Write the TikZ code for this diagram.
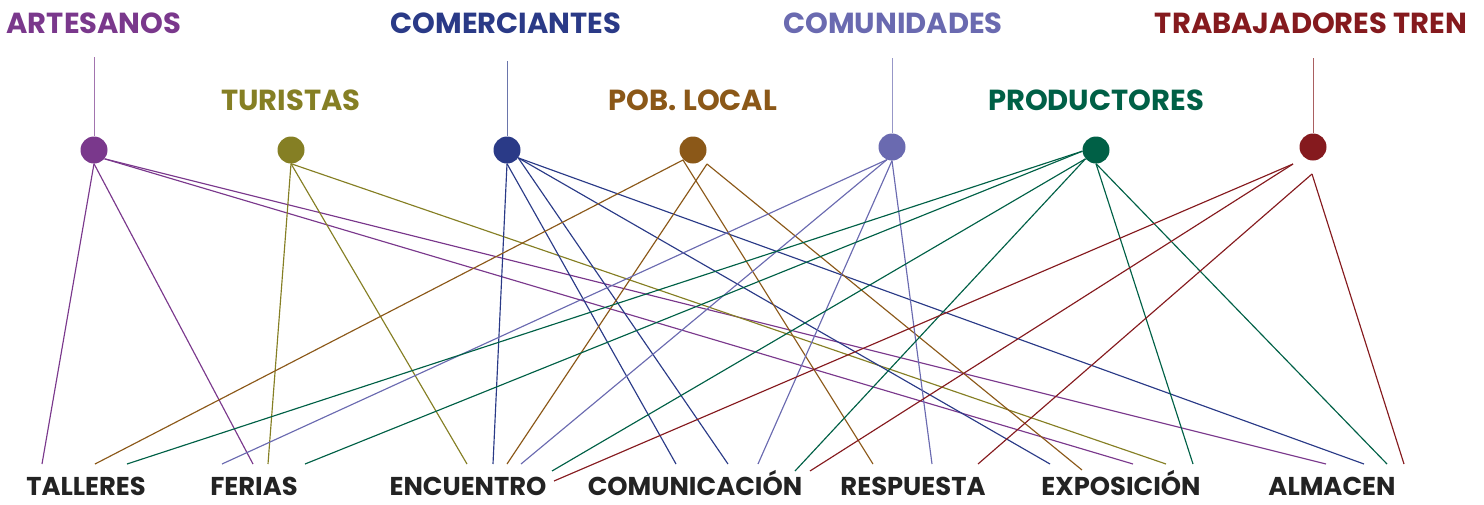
\documentclass[tikz,border=0pt]{standalone}
\usepackage{fontspec}
\setmainfont{Poppins}
\usepackage{tikz}
\usetikzlibrary{positioning}

\definecolor{artcol}{RGB}{122,56,140}
\definecolor{turcol}{RGB}{133,127,36}
\definecolor{comcol}{RGB}{42,58,135}
\definecolor{pobcol}{RGB}{139,88,24}
\definecolor{cmdcol}{RGB}{106,106,176}
\definecolor{procol}{RGB}{0,96,70}
\definecolor{trecol}{RGB}{133,26,30}
\definecolor{txtcol}{RGB}{35,35,35}

\tikzset{
  dot/.style={circle,fill=#1,minimum size=27pt,inner sep=0pt},
  grp/.style={text=#1,font=\fontsize{29}{29}\selectfont\bfseries,anchor=base,inner sep=0pt},
  use/.style={text=txtcol,font=\fontsize{25.8}{25.8}\selectfont\bfseries,anchor=base,inner sep=0pt},
  link/.style={draw=#1,line width=1.15pt},
  stem/.style={draw=#1!70,line width=1pt}
}

\begin{document}
\begin{tikzpicture}[x=1pt,y=-1pt]
\useasboundingbox (0,0) rectangle (1484,504);

% groups (top)
\node[grp=artcol] (artL) at (94,33) {ARTESANOS};
\node[grp=comcol] (comL) at (506,33) {COMERCIANTES};
\node[grp=cmdcol] (cmdL) at (893,33) {COMUNIDADES};
\node[grp=trecol] (treL) at (1311,33) {TRABAJADORES TREN};
\node[grp=turcol] (turL) at (291,110) {TURISTAS};
\node[grp=pobcol] (pobL) at (693,110) {POB. LOCAL};
\node[grp=procol] (proL) at (1096,110) {PRODUCTORES};

% dots
\node[dot=artcol] (art) at (94,150) {};
\node[dot=turcol] (tur) at (291,150) {};
\node[dot=comcol] (com) at (507,150) {};
\node[dot=pobcol] (pob) at (693,150) {};
\node[dot=cmdcol] (cmd) at (892,147) {};
\node[dot=procol] (pro) at (1096,150) {};
\node[dot=trecol] (tre) at (1313,147) {};

% stems
\coordinate (artT) at (94,57);
\coordinate (comT) at (507,61);
\coordinate (cmdT) at (892,58);
\coordinate (treT) at (1313,58);
\draw[stem=artcol] (artT) -- (art);
\draw[stem=comcol] (comT) -- (com);
\draw[stem=cmdcol] (cmdT) -- (cmd);
\draw[stem=trecol] (treT) -- (tre);

% uses (bottom)
\node[use] (tal) at (86,495) {TALLERES};
\node[use] (fer) at (254,495) {FERIAS};
\node[use] (enc) at (468,495) {ENCUENTRO};
\node[use] (cmn) at (695,495) {COMUNICACIÓN};
\node[use] (res) at (913,495) {RESPUESTA};
\node[use] (exp) at (1121,495) {EXPOSICIÓN};
\node[use] (alm) at (1332,495) {ALMACEN};

% line ends
\coordinate (tal-art) at (42,464);
\coordinate (tal-pob) at (95,464);
\coordinate (tal-pro) at (127,464);
\coordinate (fer-cmd) at (222,464);
\coordinate (fer-art) at (253,464);
\coordinate (fer-tur) at (268,464);
\coordinate (fer-pro) at (305,464);
\coordinate (enc-tur) at (467,464);
\coordinate (enc-com) at (493,464);
\coordinate (enc-pob) at (507,464);
\coordinate (enc-cmd) at (521,464);
\coordinate (enc-pro) at (552,471);
\coordinate (enc-tre) at (554,481);
\coordinate (cmn-com) at (676,464);
\coordinate (cmn-coz) at (728,464);
\coordinate (cmn-cmd) at (758,464);
\coordinate (cmn-pro) at (795,471);
\coordinate (cmn-tre) at (810,471);
\coordinate (res-pob) at (873,464);
\coordinate (res-cmd) at (932,464);
\coordinate (res-tre) at (978,464);
\coordinate (exp-com) at (1050,464);
\coordinate (exp-pob) at (1082,470);
\coordinate (exp-art) at (1133,464);
\coordinate (exp-tur) at (1166,464);
\coordinate (exp-pro) at (1193,464);
\coordinate (alm-art) at (1326,464);
\coordinate (alm-com) at (1364,464);
\coordinate (alm-pro) at (1387,464);
\coordinate (alm-tre) at (1404,464);

% start points below some dots
\coordinate (pobA) at (683,160);
\coordinate (pobB) at (707,164);
\coordinate (treA) at (1293,164);
\coordinate (treB) at (1312,174);

% links
\path[link=artcol]
  (art.south) edge (tal-art) edge (fer-art)
  (art.-40) edge (exp-art) edge (alm-art);
\path[link=turcol]
  (tur.south) edge (fer-tur) edge (enc-tur) edge (exp-tur);
\path[link=comcol]
  (com.south) edge (enc-com) edge (cmn-com)
  (com.-35) edge (cmn-coz) edge (exp-com) edge (alm-com);
\path[link=pobcol]
  (pobA) edge (tal-pob) edge (res-pob)
  (pobB) edge (enc-pob) edge (exp-pob);
\path[link=cmdcol]
  (cmd.-112) edge (fer-cmd) edge (enc-cmd)
  (cmd.south) edge (cmn-cmd) edge (res-cmd);
\path[link=procol]
  (pro.185) edge (tal-pro) edge (fer-pro)
  (pro.-140) edge (enc-pro) edge (cmn-pro)
  (pro.south) edge (exp-pro) edge (alm-pro);
\path[link=trecol]
  (treA) edge (enc-tre) edge (cmn-tre)
  (treB) edge (res-tre) edge (alm-tre);
\end{tikzpicture}
\end{document}
